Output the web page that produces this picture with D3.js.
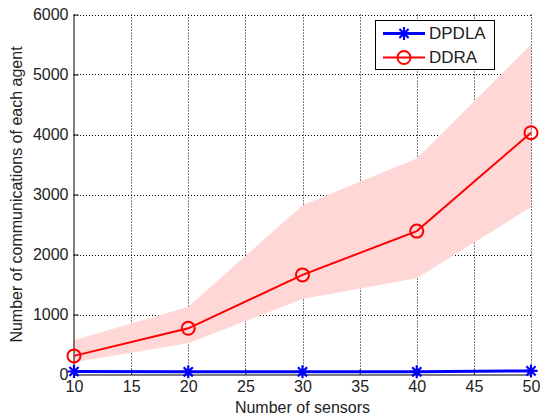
<!DOCTYPE html>
<html>
<head>
<meta charset="utf-8">
<script src="https://cdn.jsdelivr.net/npm/d3@7"></script>
<style>
body { margin: 0; background: #fff; }
svg { display: block; font-family: "Liberation Sans", Arial, sans-serif; }
</style>
</head>
<body>
<svg id="chart"></svg>
<script>
// data
var sensors = [10, 20, 30, 40, 50];
var dpdla = [50, 45, 45, 45, 60];
var ddra = [310, 770, 1660, 2390, 4030];
var ddraLow = [205, 520, 1260, 1605, 2790];
var ddraHigh = [570, 1130, 2820, 3600, 5500];
var xTicks = [10, 15, 20, 25, 30, 35, 40, 45, 50];
var yTicks = [0, 1000, 2000, 3000, 4000, 5000, 6000];
var seriesNames = ["DPDLA", "DDRA"];

var svg = d3.select('#chart')
  .attr('width', 540)
  .attr('height', 416);

var pLeft = 74, pRight = 531, pTop = 14.5, pBottom = 374.5;
var fontSize = 16;

var x = d3.scaleLinear().domain([10, 50]).range([pLeft, pRight]);
var y = d3.scaleLinear().domain([0, 6000]).range([pBottom, pTop]);

// 网格
svg.append('g').selectAll('line')
  .data(xTicks.slice(1))
  .enter().append('line')
  .attr('x1', d => Math.round(x(d)) + 0.5).attr('x2', d => Math.round(x(d)) + 0.5)
  .attr('y1', pTop).attr('y2', pBottom)
  .attr('stroke', '#000').attr('stroke-width', 1).attr('stroke-dasharray', '1,2');
svg.append('g').selectAll('line')
  .data(yTicks.slice(1))
  .enter().append('line')
  .attr('x1', pLeft).attr('x2', pRight)
  .attr('y1', d => Math.round(y(d)) + 0.5).attr('y2', d => Math.round(y(d)) + 0.5)
  .attr('stroke', '#000').attr('stroke-width', 1).attr('stroke-dasharray', '1,2');

// 阴影区域
var band = d3.area()
  .x((d, i) => x(sensors[i]))
  .y0((d, i) => y(ddraLow[i]))
  .y1((d, i) => y(ddraHigh[i]));
svg.append('path')
  .datum(sensors)
  .attr('d', band)
  .attr('fill', '#ffd7d7');

// 坐标轴
var xAxis = d3.axisBottom(x).tickValues(xTicks).tickSize(-5).tickPadding(6).tickFormat(d3.format('d'));
var yAxis = d3.axisLeft(y).tickValues(yTicks).tickSize(-5).tickPadding(5).tickFormat(d3.format('d'));

var gx = svg.append('g')
  .attr('transform', 'translate(0,' + pBottom + ')')
  .call(xAxis);
var gy = svg.append('g')
  .attr('transform', 'translate(' + (pLeft - 0.5) + ',0)')
  .call(yAxis);
[gx, gy].forEach(function (g) {
  g.selectAll('text').attr('font-size', fontSize).attr('fill', '#222').attr('font-family', '"Liberation Sans", Arial, sans-serif');
  g.selectAll('line').attr('stroke', '#000');
  g.select('.domain').attr('stroke', '#000');
});
gx.select('.domain').attr('d', 'M' + pLeft + ',0.5H' + pRight);
gy.select('.domain').attr('d', 'M0.5,' + pBottom + 'V' + pTop);

// 线条
var line = d3.line()
  .x((d, i) => x(sensors[i]))
  .y(d => y(d));

svg.append('path')
  .datum(ddra)
  .attr('d', line)
  .attr('fill', 'none')
  .attr('stroke', '#ff0000')
  .attr('stroke-width', 2);
svg.append('g').selectAll('circle')
  .data(ddra)
  .enter().append('circle')
  .attr('cx', (d, i) => x(sensors[i]))
  .attr('cy', d => y(d))
  .attr('r', 6.5)
  .attr('fill', 'none')
  .attr('stroke', '#ff0000')
  .attr('stroke-width', 2);

svg.append('path')
  .datum(dpdla)
  .attr('d', line)
  .attr('fill', 'none')
  .attr('stroke', '#0000ff')
  .attr('stroke-width', 3);

function asterisk(sel) {
  // 八角星号
  var r = 6.5;
  var p = '';
  for (var k = 0; k < 4; k++) {
    var a = k * Math.PI / 4;
    p += 'M' + (-r * Math.cos(a)) + ',' + (-r * Math.sin(a)) + 'L' + (r * Math.cos(a)) + ',' + (r * Math.sin(a));
  }
  sel.attr('d', p);
}
svg.append('g').selectAll('path')
  .data(dpdla)
  .enter().append('path')
  .attr('transform', (d, i) => 'translate(' + x(sensors[i]) + ',' + y(d) + ')')
  .call(asterisk)
  .attr('fill', 'none')
  .attr('stroke', '#0000ff')
  .attr('stroke-width', 2.2);

// 图例
svg.append('rect')
  .attr('x', 375.5).attr('y', 20.5)
  .attr('width', 119).attr('height', 49)
  .attr('fill', '#fff').attr('stroke', '#000').attr('stroke-width', 1);

var legendColors = ['#0000ff', '#ff0000'];
seriesNames.forEach(function (name, i) {
  var ly = 33.5 + i * 24;
  svg.append('line')
    .attr('x1', 383).attr('x2', 425)
    .attr('y1', ly).attr('y2', ly)
    .attr('stroke', legendColors[i]).attr('stroke-width', i === 0 ? 3 : 2);
  if (i === 0) {
    svg.append('path')
      .attr('transform', 'translate(404,' + ly + ')')
      .call(asterisk)
      .attr('fill', 'none').attr('stroke', legendColors[i]).attr('stroke-width', 2.2);
  } else {
    svg.append('circle')
      .attr('cx', 404).attr('cy', ly).attr('r', 6.5)
      .attr('fill', 'none').attr('stroke', legendColors[i]).attr('stroke-width', 2);
  }
  svg.append('text')
    .attr('x', 429).attr('y', ly)
    .attr('dy', '.35em')
    .attr('font-size', 17)
    .attr('fill', '#222')
    .text(name);
});

// 轴标题
svg.append('text')
  .attr('x', (pLeft + pRight) / 2)
  .attr('y', 413)
  .attr('text-anchor', 'middle')
  .attr('font-size', fontSize)
  .attr('fill', '#222')
  .text('Number of sensors');

svg.append('text')
  .attr('transform', 'translate(22,' + ((pTop + pBottom) / 2) + ') rotate(-90)')
  .attr('text-anchor', 'middle')
  .attr('font-size', fontSize)
  .attr('fill', '#222')
  .text('Number of communications of each agent');
</script>
</body>
</html>
